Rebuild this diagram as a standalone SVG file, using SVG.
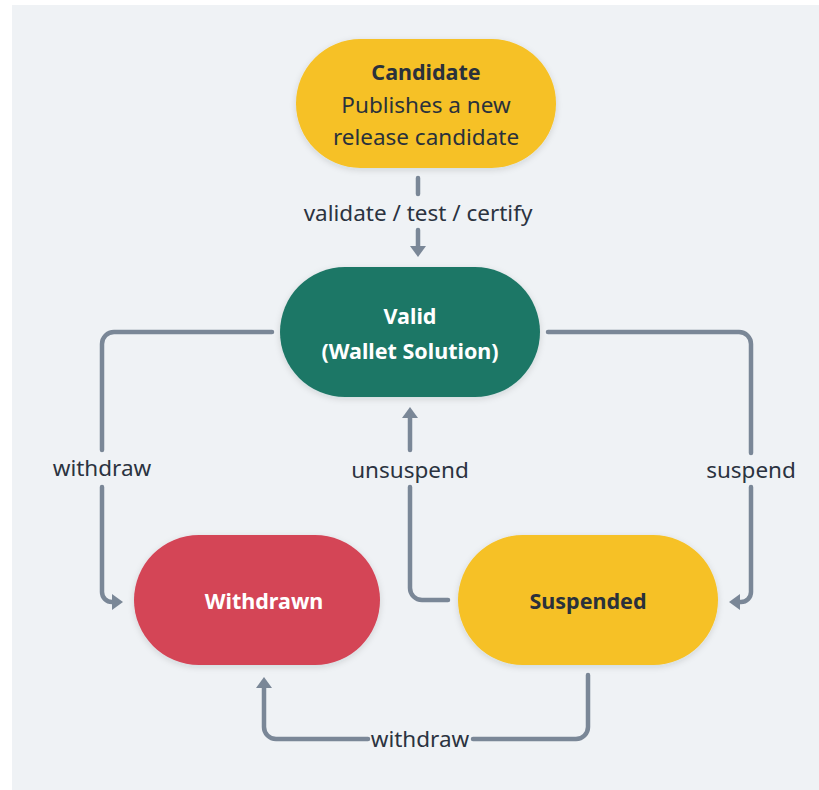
<svg xmlns="http://www.w3.org/2000/svg" width="819" height="790" viewBox="0 0 819 790">
  <style>
    .node-text { font-family: "Noto Sans", "Liberation Sans", sans-serif; font-size: 22.5px; text-anchor: middle; }
    .bold { font-weight: 700; font-size: 21.5px; }
    .dark { fill: #2a313b; }
    .light { fill: #ffffff; }
    .label { font-family: "Noto Sans", "Liberation Sans", sans-serif; font-size: 22.5px; fill: #2b3340; text-anchor: middle; }
    .edge { fill: none; stroke: #7a8797; stroke-width: 4.5; stroke-linecap: round; stroke-linejoin: round; }
  </style>
  <defs>
    <marker id="arrow" viewBox="0 0 11 16" refX="1" refY="8" markerWidth="11" markerHeight="16" markerUnits="userSpaceOnUse" orient="auto">
      <path d="M0,0 L11,8 L0,16 z" fill="#7a8797"/>
    </marker>
    <filter id="shadow" x="-10%" y="-20%" width="120%" height="150%">
      <feDropShadow dx="0" dy="2" stdDeviation="3" flood-color="#1f2a36" flood-opacity="0.14"/>
    </filter>
  </defs>

  <!-- canvas -->
  <rect x="0" y="0" width="819" height="790" fill="#ffffff"/>
  <rect x="12" y="5" width="807" height="785" fill="#eff2f5"/>

  <!-- connectors -->
  <g id="connectors">
    <!-- Candidate to Valid -->
    <path class="edge" d="M418,178 V194"/>
    <path class="edge" d="M418,230 V247" marker-end="url(#arrow)"/>
    <text class="label" x="418" y="221">validate / test / certify</text>

    <!-- Valid to Withdrawn -->
    <path class="edge" d="M272,332 H114 A12,12 0 0 0 102,344 V450"/>
    <path class="edge" d="M102,487 V592 A10,10 0 0 0 112,602 H113" marker-end="url(#arrow)"/>
    <text class="label" x="102" y="476">withdraw</text>

    <!-- Valid to Suspended -->
    <path class="edge" d="M548,332 H739 A12,12 0 0 1 751,344 V453"/>
    <path class="edge" d="M751,487 V592 A10,10 0 0 1 741,602 H739" marker-end="url(#arrow)"/>
    <text class="label" x="751" y="478">suspend</text>

    <!-- Suspended to Valid -->
    <path class="edge" d="M448,600 H422 A12,12 0 0 1 410,588 V487"/>
    <path class="edge" d="M410,450 V417" marker-end="url(#arrow)"/>
    <text class="label" x="410" y="478">unsuspend</text>

    <!-- Suspended to Withdrawn -->
    <path class="edge" d="M588,675 V727 A12,12 0 0 1 576,739 H473"/>
    <path class="edge" d="M368,739 H276 A12,12 0 0 1 264,727 V687" marker-end="url(#arrow)"/>
    <text class="label" x="420" y="747">withdraw</text>
  </g>

  <!-- nodes -->
  <g id="candidate">
    <rect x="296" y="39" width="260" height="129" rx="64.5" fill="#f6c125" filter="url(#shadow)"/>
    <text class="node-text bold dark" x="426" y="80">Candidate</text>
    <text class="node-text dark" x="426" y="113">Publishes a new</text>
    <text class="node-text dark" x="426" y="145">release candidate</text>
  </g>

  <g id="valid">
    <rect x="280" y="267" width="260" height="130" rx="65" fill="#1e7766" filter="url(#shadow)"/>
    <text class="node-text bold light" x="410" y="324">Valid</text>
    <text class="node-text bold light" x="410" y="359">(Wallet Solution)</text>
  </g>

  <g id="withdrawn">
    <rect x="134" y="535" width="246" height="130" rx="65" fill="#d44457" filter="url(#shadow)"/>
    <text class="node-text bold light" x="264" y="609">Withdrawn</text>
  </g>

  <g id="suspended">
    <rect x="458" y="535" width="260" height="130" rx="65" fill="#f6c125" filter="url(#shadow)"/>
    <text class="node-text bold dark" x="588" y="609">Suspended</text>
  </g>
</svg>
